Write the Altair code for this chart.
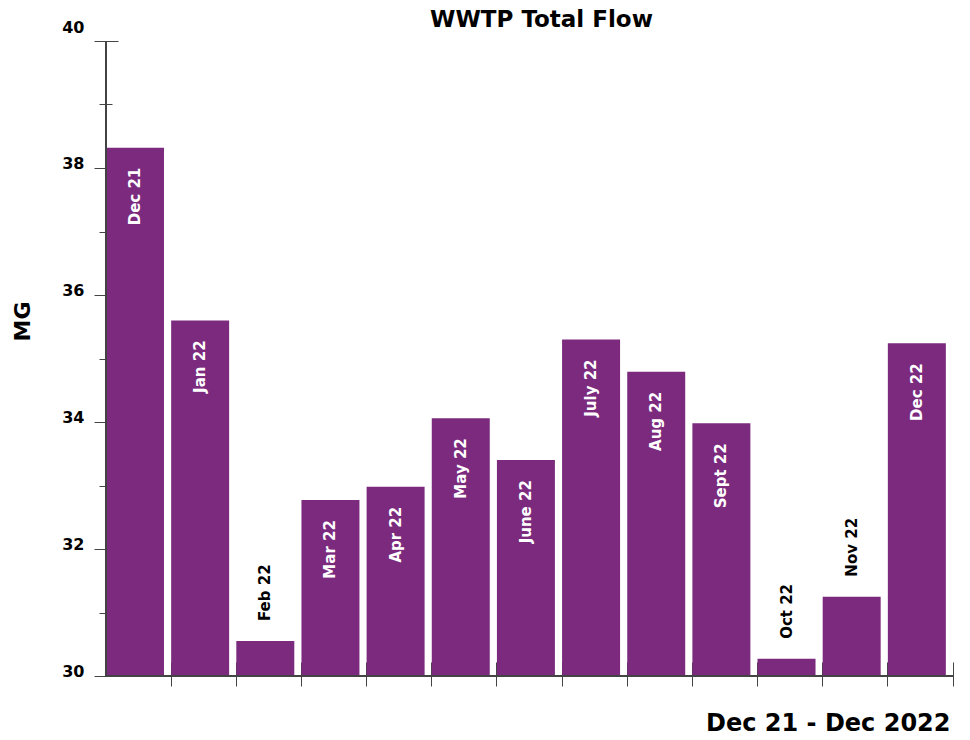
import altair as alt
import pandas as pd

# Monthly total flow (million gallons)
months = ["Dec 21", "Jan 22", "Feb 22", "Mar 22", "Apr 22", "May 22", "June 22",
          "July 22", "Aug 22", "Sept 22", "Oct 22", "Nov 22", "Dec 22"]
flow_mg = [38.32, 35.60, 30.55, 32.77, 32.98, 34.06, 33.40,
           35.30, 34.79, 33.98, 30.27, 31.25, 35.24]

major_ticks = [30, 32, 34, 36, 38, 40]
minor_ticks = [31, 33, 35, 37, 39]

df = pd.DataFrame({"month": months, "flow": flow_mg})

FONT = "DejaVu Sans"
PURPLE = "#7B2A7E"
LINE = "#444444"

x_enc = alt.X(
    "month:N", sort=months, title="Dec 21 - Dec 2022",
    scale=alt.Scale(paddingInner=0.11, paddingOuter=0.055, align=0),
    axis=alt.Axis(labels=False, domain=False, ticks=True, tickSize=24, offset=-14,
                  tickColor=LINE, bandPosition=1 / 0.89,
                  titleFont=FONT, titleFontSize=24, titleFontWeight="bold",
                  titleColor="black", titleAnchor="end", titleAlign="right",
                  titleBaseline="middle", titleY=61, titleX=844),
)
x_plain = alt.X("month:N", sort=months)
y_scale = alt.Scale(domain=[30, 40], nice=False, zero=False)
y_plain = alt.Y("flow:Q", scale=y_scale, axis=None)

bars = alt.Chart(df).mark_bar(color=PURPLE, clip=True).encode(
    x=x_enc,
    y=alt.Y("flow:Q", scale=y_scale, title="MG",
            axis=alt.Axis(values=major_ticks, domain=False, grid=False, tickSize=24,
                          offset=-12, tickColor=LINE, labelPadding=10,
                          labelOffset={"condition": {"test": "datum.value == 40", "value": -14},
                                       "value": -5},
                          labelFont=FONT, labelFontSize=16, labelFontWeight="bold",
                          labelColor="black",
                          titleFont=FONT, titleFontSize=22, titleFontWeight="bold",
                          titleColor="black", titleAngle=270, titleAlign="center",
                          titleBaseline="middle", titleX=-96, titleY=280)),
)

# Labels inside the taller bars (white), above the short ones (black)
inside = alt.Chart(df).transform_filter("datum.flow >= 32").mark_text(
    angle=270, align="right", baseline="middle", dx=-20,
    font=FONT, fontSize=15, fontWeight="bold", color="white",
).encode(x=x_plain, y=y_plain, text="month:N")

outside = alt.Chart(df).transform_filter("datum.flow < 32").mark_text(
    angle=270, align="left", baseline="middle", dx=20,
    font=FONT, fontSize=15, fontWeight="bold", color="black",
).encode(x=x_plain, y=y_plain, text="month:N")

# Minor ticks on the value axis
minor = alt.Chart(df).mark_bar(opacity=0, clip=True).encode(
    x=x_plain,
    y=alt.Y("flow:Q", scale=y_scale,
            axis=alt.Axis(values=minor_ticks, orient="left", domain=False, grid=False,
                          labels=False, title=None, tickSize=13, offset=-6,
                          tickColor=LINE)),
)

# Axis lines
x_line = alt.Chart(df).mark_rule(color=LINE, strokeWidth=1.2).encode(
    y=alt.Y(datum=30, scale=y_scale, axis=None))
y_line = alt.Chart(df).mark_rule(color=LINE, strokeWidth=1.2).encode(
    x=alt.value(0), y=alt.Y(datum=40, scale=y_scale, axis=None), y2=alt.datum(30))

chart = alt.layer(bars, minor, inside, outside, x_line, y_line).resolve_axis(
    y="independent"
).properties(
    width=847, height=635,
    title=alt.TitleParams("WWTP Total Flow", font=FONT, fontSize=23, fontWeight="bold",
                          color="black", anchor="middle", dx=12, offset=-13),
    autosize=alt.AutoSizeParams(type="none"),
    padding={"left": 106, "top": 41, "right": 17, "bottom": 64},
).configure(background="white").configure_view(strokeWidth=0)

chart.save("out.html", embed_options={"renderer": "svg", "actions": False})
